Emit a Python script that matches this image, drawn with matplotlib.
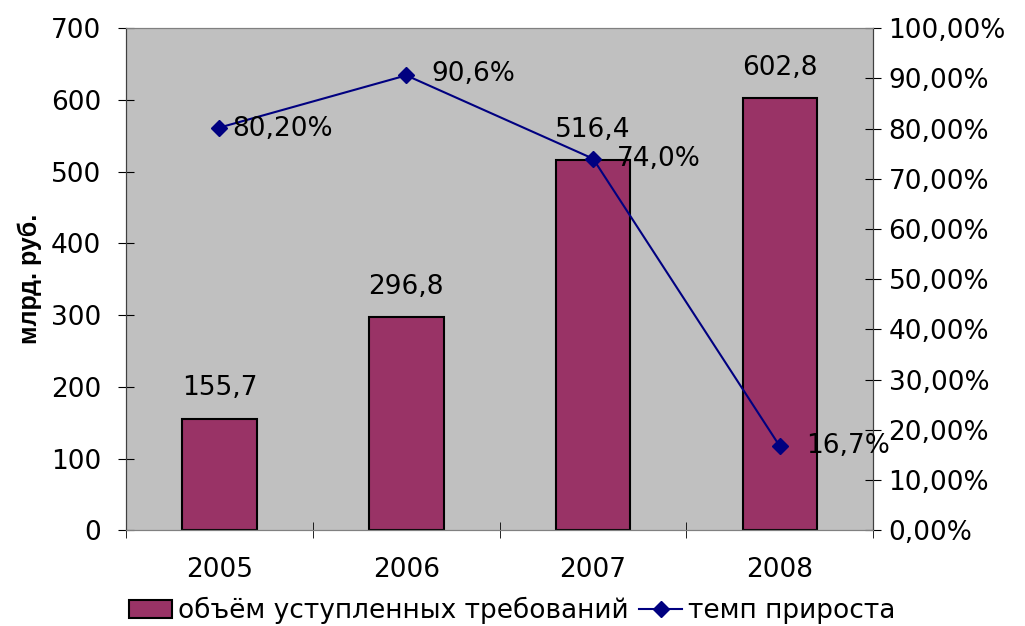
import matplotlib.pyplot as plt
import numpy as np

plt.rcParams['font.family'] = ['DejaVu Sans']

years = ['2005', '2006', '2007', '2008']
volume = [155.7, 296.8, 516.4, 602.8]
volume_labels = ['155,7', '296,8', '516,4', '602,8']
growth = [80.2, 90.6, 74.0, 16.7]
growth_labels = ['80,20%', '90,6%', '74,0%', '16,7%']

fig = plt.figure(figsize=(10.25, 6.26), dpi=100)
ax = fig.add_axes([0.123, 0.153, 0.729, 0.802])
ax.set_facecolor('#C0C0C0')

x = np.arange(len(years))
bars = ax.bar(x, volume, width=0.4, color='#993366', edgecolor='black', linewidth=1.5,
              label='объём уступленных требований', zorder=2)
for xi, v, lab in zip(x, volume, volume_labels):
    ax.text(xi, v + 24, lab, ha='center', va='bottom', fontsize=19)

ax.set_xlim(-0.5, 3.5)
ax.set_ylim(0, 700)
ax.set_yticks(range(0, 701, 100))
ax.set_xticks(x)
ax.set_xticklabels(years)
ax.set_xticks(np.arange(-0.5, 3.6, 1), minor=True)
ax.tick_params(axis='x', which='major', length=0, labelsize=19, pad=19)
ax.tick_params(axis='x', which='minor', length=12, direction='inout')
ax.tick_params(axis='y', direction='inout', length=12, labelsize=19, pad=12)
ax.set_ylabel('млрд. руб.', fontsize=18, fontweight='bold', labelpad=6,
              family=['Liberation Sans Narrow', 'Liberation Sans'])

ax2 = ax.twinx()
line, = ax2.plot(x, growth, color='#000080', marker='D', markersize=8, linewidth=1.5,
                 label='темп прироста', zorder=3)
ax2.set_ylim(0, 100)
ax2.set_yticks(range(0, 101, 10))
ax2.set_yticklabels([f'{t},00%' for t in range(0, 101, 10)])
ax2.tick_params(axis='y', direction='inout', length=12, labelsize=19, pad=5)

offsets = [(9, -1), (18, 1), (17, 0), (19, 0)]
for xi, g, lab, off in zip(x, growth, growth_labels, offsets):
    ax2.annotate(lab, (xi, g), xytext=off, textcoords='offset points',
                 ha='left', va='center', fontsize=19)

for a in (ax, ax2):
    a.spines['top'].set_color('#808080')
    a.spines['bottom'].set_color('#808080')
    a.spines['left'].set_color('#404040')
    a.spines['right'].set_color('#404040')

fig.legend(handles=[bars, line], loc='lower center', bbox_to_anchor=(0.5, -0.035),
           ncol=2, frameon=False, fontsize=19, handlelength=1.6, handletextpad=0.25,
           columnspacing=0.4)

fig.savefig('out.png', dpi=100)
